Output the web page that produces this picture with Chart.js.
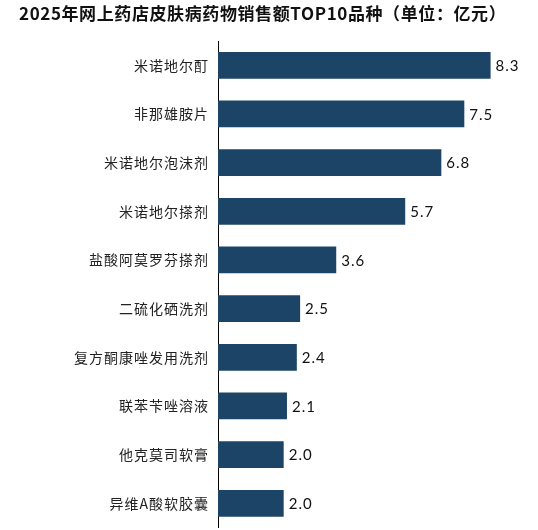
<!DOCTYPE html>
<html>
<head>
<meta charset="utf-8">
<script src="https://cdn.jsdelivr.net/npm/chart.js"></script>
<style>
  html, body { margin: 0; padding: 0; background: #fff; overflow: hidden; }
  canvas { display: block; letter-spacing: 1px; }
</style>
</head>
<body>
<canvas id="drugChart" width="538" height="545"></canvas>
<script>
// Chart data
const chartTitle = "2025年网上药店皮肤病药物销售额TOP10品种（单位：亿元）";
const drugNames = ["米诺地尔酊", "非那雄胺片", "米诺地尔泡沫剂", "米诺地尔搽剂", "盐酸阿莫罗芬搽剂",
  "二硫化硒洗剂", "复方酮康唑发用洗剂", "联苯苄唑溶液", "他克莫司软膏", "异维A酸软胶囊"];
const salesValues = [8.3, 7.5, 6.8, 5.7, 3.6, 2.5, 2.4, 2.1, 2.0, 2.0];

const barColor = "#1C4466";

// Title drawn at the top left
const titlePlugin = {
  id: "titleText",
  afterDraw(chart) {
    const ctx = chart.ctx;
    ctx.save();
    ctx.font = "bold 17px 'Noto Sans CJK SC'";
    ctx.letterSpacing = "0.6px";
    ctx.fillStyle = "#111";
    ctx.textBaseline = "middle";
    ctx.textAlign = "left";
    ctx.fillText(chartTitle, 19, 14);
    ctx.restore();
  }
};

// Value labels at the end of each bar
const valueLabelPlugin = {
  id: "valueLabels",
  afterDatasetsDraw(chart) {
    const ctx = chart.ctx;
    const meta = chart.getDatasetMeta(0);
    ctx.save();
    ctx.font = "15px Lato";
    ctx.letterSpacing = "0px";
    ctx.fillStyle = "#111";
    ctx.textBaseline = "middle";
    ctx.textAlign = "left";
    meta.data.forEach(function (bar, i) {
      ctx.fillText(salesValues[i].toFixed(1), bar.x + 5, bar.y + 1);
    });
    ctx.restore();
  }
};

new Chart(document.getElementById("drugChart"), {
  type: "bar",
  data: {
    labels: drugNames,
    datasets: [{
      data: salesValues,
      backgroundColor: barColor,
      barPercentage: 0.55,
      categoryPercentage: 1.0
    }]
  },
  options: {
    indexAxis: "y",
    responsive: false,
    animation: false,
    layout: { padding: { top: 41, right: 8, bottom: 8, left: 0 } },
    plugins: {
      legend: { display: false },
      tooltip: { enabled: false }
    },
    scales: {
      x: {
        display: false,
        min: 0,
        max: 9.5
      },
      y: {
        afterFit(scale) { scale.width = 218; },
        grid: { display: false, drawTicks: false },
        border: { display: true, color: "#000", width: 1 },
        ticks: {
          padding: 9,
          color: "#222",
          font: { family: "'Noto Sans CJK SC'", size: 14 }
        }
      }
    }
  },
  plugins: [titlePlugin, valueLabelPlugin]
});
</script>
</body>
</html>
